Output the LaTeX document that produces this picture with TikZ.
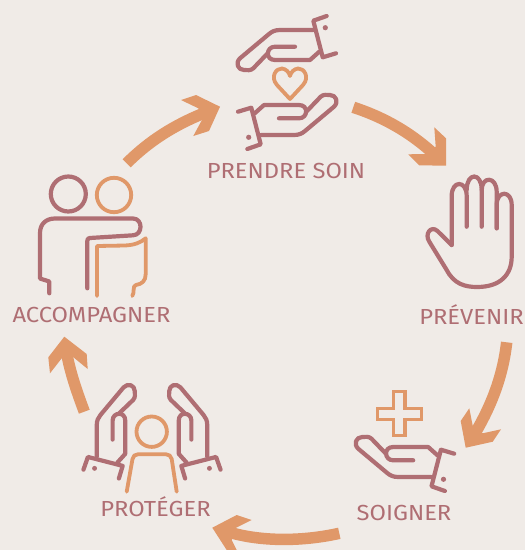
\documentclass[tikz,border=0pt]{standalone}
\usepackage{fontspec}
\setmainfont[FakeStretch=1.09]{Fira Sans}
\definecolor{rosec}{HTML}{AF6E73}
\definecolor{orangec}{HTML}{E09869}
\definecolor{backc}{HTML}{F0EBE7}
\tikzset{
  label/.style={text=rosec,inner sep=0pt,font=\fontsize{21.8}{22}\selectfont},
  rose/.style={draw=rosec,line width=4.2pt,line cap=round,line join=round},
  peach/.style={draw=orangec,line width=3.8pt,line cap=round,line join=round},
  flow/.style={draw=orangec,line width=11.5pt},
  flowhead/.style={fill=orangec},
  hand/.pic={
    \draw[rose] (8.7,-23) -- (-4.7,-18.3) -- (4.7,18.3) -- (18,14.3);
    \fill[rosec] (7.3,-11.3) circle (2.6);
    \draw[rose] (-5,-9) -- (-38,-9) .. controls (-43,-9) and (-46,-7.5) .. (-49,-5)
      -- (-78,19.3) .. controls (-83,24) and (-80,31) .. (-74,31)
      .. controls (-70,31) and (-68,32) .. (-64.7,29.3) -- (-50.5,14.5);
    \draw[rose] (-23,7.7) -- (-43,7.7) .. controls (-52,7.7) and (-53,21) .. (-43,21)
      -- (-8,21) -- (1.3,12.7);
  }
}
\begin{document}
\begin{tikzpicture}[x=1pt,y=-1pt]
  \useasboundingbox (0,0) rectangle (525,550);
  \clip (0,0) rectangle (525,550);
  \fill[backc] (0,0) rectangle (525,550);

  % labels
  \node[label] (soin) at (286,170.5) {PRENDRE SOIN};
  \node[label] (accomp) at (91.5,315) {ACCOMPAGNER};
  \node[label] (prevenir) at (471.5,315) {PRÉVENIR};
  \node[label] (proteger) at (155.5,506.5) {PROTÉGER};
  \node[label] (soigner) at (404,513) {SOIGNER};

  % prendre soin
  \pic at (318,39) {hand};
  \pic[rotate=180] at (256,126) {hand};
  \draw[peach] (290,99) -- (277,85) .. controls (270,77) and (276,68) .. (282,68.5)
    .. controls (286,69) and (289,72) .. (290,76) .. controls (291,72) and (294,69) .. (298,68.5)
    .. controls (304,68) and (310,77) .. (303,85) -- cycle;

  % prevenir
  \draw[rose] (451.7,245) -- (437.5,231) .. controls (431,225) and (424,234) .. (429.5,242)
    -- (446.7,270) .. controls (454,284) and (465,287) .. (477,287)
    .. controls (500,287) and (511.7,275) .. (511.7,256.7) -- (511.7,205)
    .. controls (511.7,190) and (496.7,190) .. (496.7,205) -- (496.7,228.3);
  \draw[rose] (451.7,245) -- (451.7,196) .. controls (451.7,180) and (466.7,180) .. (466.7,196) -- (466.7,226.7);
  \draw[rose] (466.7,190) .. controls (466.7,172) and (481.7,172) .. (481.7,190) -- (481.7,226.7);
  \draw[rose] (481.7,190) .. controls (481.7,176) and (496.7,176) .. (496.7,192) -- (496.7,228.3);

  % soigner
  \pic[yscale=-1] at (436.2,468) {hand};
  \draw[orangec,line width=3.3pt,miter limit=10] (393.8,391.8) -- (405,391.8) -- (405,408.3) -- (421.4,408.3)
    -- (421.4,419.3) -- (405,419.3) -- (405,435.8) -- (393.8,435.8) -- (393.8,419.3)
    -- (377.4,419.3) -- (377.4,408.3) -- (393.8,408.3) -- cycle;

  % proteger
  \pic[rotate=90,xscale=-1,scale=.95] at (105.3,461.4) {hand};
  \pic[rotate=-90,scale=.95] at (198.7,461.4) {hand};
  \draw[peach] (151.7,431.7) circle (15.2);
  \draw[peach] (126.7,491.7) -- (132.5,459) .. controls (133,456) and (135,454.3) .. (138,454.3)
    -- (166,454.3) .. controls (169,454.3) and (171,456) .. (171.7,459) -- (176.7,491.7);

  % accompagner
  \draw[rose] (68.3,194) circle (17.5);
  \draw[peach] (114,195) circle (17.2);
  \draw[rose] (49.3,293.3) -- (49.3,281.5) -- (40,278.5) -- (40,233)
    .. controls (40,224) and (46,218.5) .. (55,218.5) -- (133,218.5)
    .. controls (143,218.5) and (143,235) .. (133,235.3) -- (90,238) .. controls (88,238) and (87.3,239) .. (87.3,241) -- (87.3,288.3);
  \draw[peach] (97,296) -- (97,246) -- (125,245.5) .. controls (134,245) and (140,243) .. (145.7,238.3)
    -- (145.7,274) .. controls (145.7,281) and (142,284) .. (136,285)
    .. controls (132,286) and (135,292) .. (132.3,296);

  % arrows
  \coordinate (a1) at (126.7,163.3);
  \coordinate (a2) at (203,113.5);
  \draw[flow] (a1) .. controls (150,140) and (175,125) .. (a2);
  \fill[flowhead] (220,106.7) -- (196,95) -- (181,100) -- (198.3,108.3) -- (203,118) -- (193.3,136) -- (209,131) -- cycle;

  \coordinate (b1) at (353.3,107.3);
  \coordinate (b2) at (435,155);
  \draw[flow] (b1) .. controls (380,116) and (408,130) .. (b2);
  \fill[flowhead] (446,165.7) -- (446,138.3) -- (434.3,127.3) -- (435.7,146.7) -- (426.7,154) -- (408.3,154.3) -- (419.3,165.3) -- cycle;

  \coordinate (c1) at (506.7,342.3);
  \coordinate (c2) at (474,435);
  \draw[flow] (c1) .. controls (503,375) and (492,405) .. (c2);
  \fill[flowhead] (465.7,447.7) -- (460.7,421) -- (469.3,408.3) -- (472.7,425.7) -- (482.7,433.3) -- (501,429.3) -- (492.7,441.7) -- cycle;

  \coordinate (d1) at (339.3,533.3);
  \coordinate (d2) at (232,533);
  \draw[flow] (d1) .. controls (305,541) and (265,542) .. (d2);
  \fill[flowhead] (212.3,527.7) -- (236.7,515) -- (251.7,520) -- (235,528.3) -- (231.7,540) -- (236.7,550) -- (226.7,550) -- cycle;

  \coordinate (e1) at (84.3,411.7);
  \coordinate (e2) at (67,355);
  \draw[flow] (e1) .. controls (77,392) and (71,375) .. (e2);
  \fill[flowhead] (64.3,336.7) -- (86.7,354) -- (87.7,369) -- (72.7,356.7) -- (61.7,358.3) -- (50,373.3) -- (48.3,357.3) -- cycle;
\end{tikzpicture}
\end{document}
